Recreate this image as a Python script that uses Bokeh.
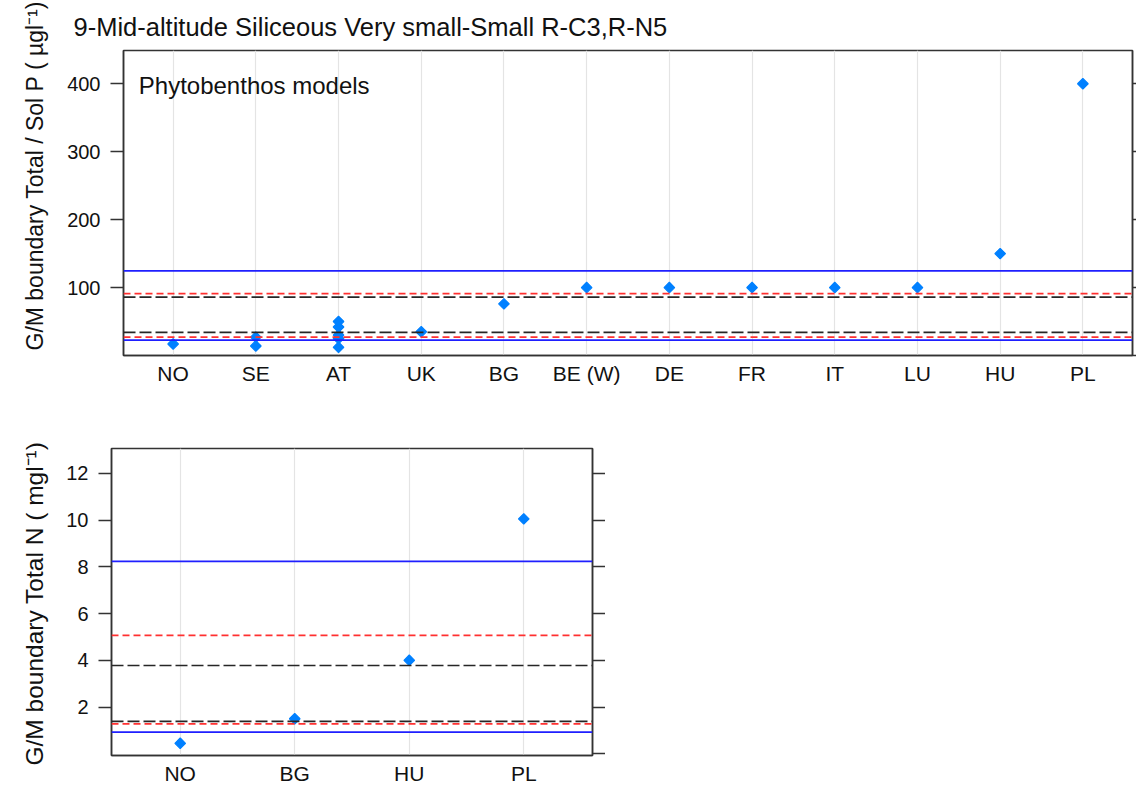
from bokeh.plotting import figure
from bokeh.layouts import column, row
from bokeh.models import (FactorRange, Range1d, LinearAxis, FixedTicker, Span,
                          Label, Title, ColumnDataSource)
from bokeh.embed import file_html
from bokeh.resources import INLINE
import math

# ---------------- data ----------------
TITLE = "9-Mid-altitude Siliceous Very small-Small R-C3,R-N5"
NOTE = "Phytobenthos models"

P_COUNTRIES = ["NO", "SE", "AT", "UK", "BG", "BE (W)", "DE", "FR", "IT", "LU", "HU", "PL"]
P_POINT_COUNTRY = ["NO", "SE", "SE", "AT", "AT", "AT", "AT", "AT", "UK", "BG",
                   "BE (W)", "DE", "FR", "IT", "LU", "HU", "PL"]
P_POINT_VALUE = [17, 27, 14, 50, 42, 30, 25, 12, 35, 76,
                 100, 100, 100, 100, 100, 150, 400]
P_BLUE = [22.5, 124.5]
P_RED = [27, 91]
P_BLACK = [34, 86]
P_YTICKS = [0, 100, 200, 300, 400]
P_YLABEL = "G/M boundary Total / Sol P ( \u00b5gl\u207b\u00b9)"

N_COUNTRIES = ["NO", "BG", "HU", "PL"]
N_VALUES = [0.45, 1.5, 4.0, 10.05]
N_BLUE = [0.93, 8.23]
N_RED = [1.28, 5.07]
N_BLACK = [1.39, 3.78]
N_YTICKS = [0, 2, 4, 6, 8, 10, 12]
N_YLABEL = "G/M boundary Total N ( mgl\u207b\u00b9)"

FONT = "Liberation Sans"
BOX = "#333333"
TXT = "#111111"


def make_panel(countries, pt_country, pt_value, blue, red, black, yticks, yrange,
               frame_w, frame_h, borders, right_tick):
    p = figure(x_range=FactorRange(factors=countries, range_padding=0.1,
                                   range_padding_units="absolute"),
               y_range=Range1d(*yrange), frame_width=frame_w, frame_height=frame_h,
               output_backend="svg", toolbar_location=None,
               min_border_left=borders[0], min_border_right=borders[1],
               min_border_top=borders[2], min_border_bottom=borders[3])
    p.background_fill_color = "white"
    p.border_fill_color = "white"
    p.outline_line_color = BOX
    p.outline_line_width = 1.5
    p.ygrid.grid_line_color = None
    p.xgrid.grid_line_color = "#e4e4e4"
    p.xgrid.grid_line_width = 1.2

    ya = p.yaxis[0]
    ya.ticker = FixedTicker(ticks=yticks[1:])
    ya.major_tick_out = 13
    ya.major_tick_in = 0
    ya.minor_tick_line_color = None
    ya.axis_line_color = BOX
    ya.axis_line_width = 1.5
    ya.major_tick_line_color = BOX
    ya.major_tick_line_width = 1.5
    ya.major_label_text_font = FONT
    ya.major_label_text_font_size = "20px"
    ya.major_label_text_color = TXT
    ya.major_label_standoff = 10

    ra = LinearAxis(ticker=FixedTicker(ticks=yticks))
    ra.major_label_text_font_size = "1px"
    ra.major_label_text_color = None
    ra.major_label_standoff = 0
    ra.major_tick_out = right_tick
    ra.major_tick_in = 0
    ra.minor_tick_line_color = None
    ra.axis_line_color = BOX
    ra.axis_line_width = 1.5
    ra.major_tick_line_color = BOX
    ra.major_tick_line_width = 1.5
    p.add_layout(ra, "right")

    xa = p.xaxis[0]
    xa.major_tick_line_color = None
    xa.major_tick_out = 0
    xa.major_tick_in = 0
    xa.axis_line_color = BOX
    xa.axis_line_width = 1.5
    xa.major_label_text_font = FONT
    xa.major_label_text_font_size = "21px"
    xa.major_label_text_color = TXT
    xa.major_label_standoff = 6

    for v in blue:
        p.add_layout(Span(location=v, dimension="width", line_color="#1f1fff",
                          line_width=1.7))
    for v in red:
        p.add_layout(Span(location=v, dimension="width", line_color="#ff3030",
                          line_width=1.7, line_dash="7 4"))
    for v in black:
        p.add_layout(Span(location=v, dimension="width", line_color="#262626",
                          line_width=1.7, line_dash="12 4"))

    src = ColumnDataSource(dict(x=pt_country, y=pt_value))
    p.scatter("x", "y", source=src, marker="square", angle=math.pi / 4, size=7.5,
              fill_color="#0080ff", line_color="#0080ff", line_width=1.2)
    return p


def side_label(p, text, size, offset, standoff):
    t = Title(text=text, align="left", offset=offset, standoff=standoff,
              text_font=FONT, text_font_size=size, text_font_style="normal",
              text_color=TXT)
    p.add_layout(t, "left")


top = make_panel(P_COUNTRIES, P_POINT_COUNTRY, P_POINT_VALUE, P_BLUE, P_RED, P_BLACK,
                 P_YTICKS, (0, 449), 1009, 305, (123, 4, 50, 45), 4)
top.title.text = TITLE
top.title.text_font = FONT
top.title.text_font_size = "25.5px"
top.title.text_font_style = "normal"
top.title.text_color = TXT
top.title.align = "left"
top.title.offset = -50
top.title.standoff = 19
side_label(top, P_YLABEL, "23px", 5, 34)

top.add_layout(Label(x=0.085, y=397, text=NOTE, text_font=FONT,
                     text_font_size="24px", text_color=TXT,
                     text_baseline="middle", text_align="left"))

bottom = make_panel(N_COUNTRIES, N_COUNTRIES, N_VALUES, N_BLUE, N_RED, N_BLACK,
                    N_YTICKS, (-0.07, 13.06), 481, 307, (111, 13, 48, 32), 13)
side_label(bottom, N_YLABEL, "24.5px", -10, 31)

layout = column(top, row(bottom))
open("out.html", "w").write(file_html(layout, INLINE))
